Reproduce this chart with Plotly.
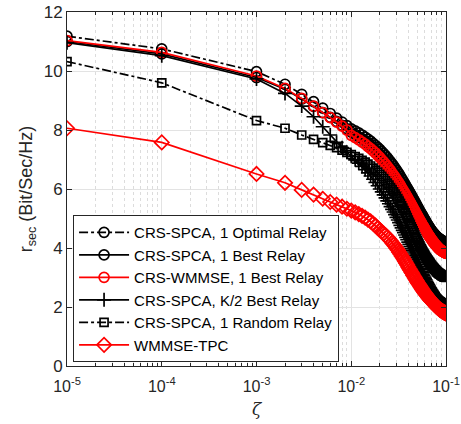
import plotly.graph_objects as go

# x grid: 1e-5, 1e-4, then 1e-3 ... 1e-1 in steps of 1e-3
zeta = [1e-5, 1e-4] + [i * 1e-3 for i in range(1, 101)]

optimal = [11.18, 10.75,
    9.98, 9.55, 9.21, 8.96, 8.74, 8.56, 8.40, 8.27, 8.15, 8.04,
    7.97, 7.90, 7.83, 7.76, 7.69, 7.62, 7.55, 7.48, 7.41, 7.34,
    7.27, 7.20, 7.13, 7.06, 6.99, 6.92, 6.85, 6.78, 6.71, 6.64,
    6.57, 6.50, 6.43, 6.36, 6.29, 6.22, 6.16, 6.09, 6.03, 5.97,
    5.91, 5.85, 5.79, 5.73, 5.67, 5.62, 5.56, 5.51, 5.45, 5.40,
    5.35, 5.30, 5.25, 5.21, 5.16, 5.12, 5.08, 5.03, 4.99, 4.95,
    4.91, 4.87, 4.83, 4.79, 4.76, 4.72, 4.69, 4.66, 4.63, 4.60,
    4.57, 4.55, 4.52, 4.50, 4.48, 4.46, 4.44, 4.42, 4.40, 4.38,
    4.37, 4.35, 4.34, 4.32, 4.31, 4.30, 4.29, 4.28, 4.27, 4.26,
    4.25, 4.24, 4.23, 4.22, 4.21, 4.21, 4.20, 4.19, 4.19, 4.18]

best = [11.00, 10.58,
    9.78, 9.38, 9.05, 8.80, 8.59, 8.43, 8.29, 8.16, 8.04, 7.93,
    7.85, 7.77, 7.70, 7.62, 7.55, 7.47, 7.40, 7.32, 7.25, 7.17,
    7.10, 7.02, 6.95, 6.87, 6.80, 6.72, 6.65, 6.58, 6.51, 6.44,
    6.37, 6.30, 6.23, 6.16, 6.09, 6.02, 5.96, 5.89, 5.83, 5.77,
    5.71, 5.65, 5.59, 5.53, 5.47, 5.41, 5.36, 5.30, 5.25, 5.20,
    5.15, 5.10, 5.05, 5.00, 4.96, 4.91, 4.87, 4.83, 4.79, 4.75,
    4.71, 4.67, 4.63, 4.60, 4.56, 4.53, 4.50, 4.47, 4.44, 4.41,
    4.38, 4.35, 4.33, 4.30, 4.28, 4.25, 4.23, 4.21, 4.19, 4.17,
    4.15, 4.13, 4.11, 4.10, 4.08, 4.07, 4.05, 4.04, 4.03, 4.02,
    4.01, 4.00, 3.99, 3.98, 3.97, 3.96, 3.95, 3.95, 3.94, 3.93]

wmmse = [11.03, 10.63,
    9.83, 9.41, 9.07, 8.81, 8.59, 8.42, 8.27, 8.13, 8.00, 7.82,
    7.74, 7.67, 7.59, 7.52, 7.44, 7.37, 7.29, 7.22, 7.14, 7.07,
    6.99, 6.92, 6.84, 6.77, 6.69, 6.62, 6.54, 6.47, 6.40, 6.33,
    6.26, 6.19, 6.12, 6.05, 5.98, 5.91, 5.85, 5.78, 5.72, 5.66,
    5.60, 5.54, 5.48, 5.42, 5.36, 5.30, 5.25, 5.19, 5.14, 5.09,
    5.04, 4.99, 4.94, 4.89, 4.85, 4.80, 4.76, 4.72, 4.68, 4.64,
    4.60, 4.56, 4.52, 4.49, 4.45, 4.42, 4.39, 4.36, 4.33, 4.30,
    4.27, 4.24, 4.22, 4.19, 4.17, 4.14, 4.12, 4.10, 4.08, 4.06,
    4.04, 4.02, 4.00, 3.99, 3.97, 3.96, 3.94, 3.93, 3.92, 3.91,
    3.90, 3.89, 3.88, 3.87, 3.86, 3.85, 3.84, 3.84, 3.83, 3.82]

khalf = [10.96, 10.52,
    9.73, 9.24, 8.81, 8.45, 8.11, 7.83, 7.58, 7.40, 7.25, 7.11,
    6.99, 6.88, 6.77, 6.66, 6.55, 6.44, 6.33, 6.22, 6.11, 6.00,
    5.90, 5.80, 5.70, 5.60, 5.50, 5.40, 5.31, 5.22, 5.13, 5.04,
    4.95, 4.86, 4.77, 4.68, 4.60, 4.52, 4.44, 4.36, 4.28, 4.20,
    4.12, 4.05, 3.97, 3.90, 3.83, 3.76, 3.69, 3.62, 3.56, 3.50,
    3.44, 3.38, 3.32, 3.27, 3.21, 3.16, 3.11, 3.06, 3.01, 2.96,
    2.92, 2.87, 2.83, 2.79, 2.75, 2.71, 2.67, 2.64, 2.60, 2.57,
    2.54, 2.51, 2.48, 2.45, 2.42, 2.40, 2.37, 2.35, 2.33, 2.31,
    2.29, 2.27, 2.25, 2.23, 2.22, 2.20, 2.19, 2.17, 2.16, 2.15,
    2.14, 2.13, 2.12, 2.11, 2.10, 2.09, 2.08, 2.07, 2.07, 2.06]

rand = [10.32, 9.60,
    8.32, 8.06, 7.83, 7.68, 7.57, 7.48, 7.40, 7.32, 7.24, 7.17,
    7.10, 7.04, 6.97, 6.91, 6.84, 6.78, 6.71, 6.64, 6.57, 6.50,
    6.43, 6.35, 6.28, 6.20, 6.13, 6.05, 5.98, 5.90, 5.83, 5.75,
    5.67, 5.59, 5.51, 5.43, 5.35, 5.27, 5.19, 5.11, 5.03, 4.95,
    4.87, 4.80, 4.72, 4.65, 4.58, 4.51, 4.44, 4.37, 4.31, 4.25,
    4.19, 4.13, 4.07, 4.02, 3.97, 3.92, 3.88, 3.83, 3.79, 3.75,
    3.71, 3.67, 3.63, 3.60, 3.57, 3.54, 3.51, 3.48, 3.45, 3.42,
    3.39, 3.37, 3.34, 3.32, 3.30, 3.28, 3.26, 3.24, 3.22, 3.20,
    3.18, 3.17, 3.15, 3.14, 3.13, 3.12, 3.11, 3.10, 3.08, 3.07,
    3.06, 3.05, 3.05, 3.04, 3.03, 3.02, 3.02, 3.01, 3.01, 3.00]

tpc = [8.06, 7.58,
    6.51, 6.21, 5.97, 5.81, 5.67, 5.56, 5.47, 5.40, 5.33, 5.27,
    5.21, 5.15, 5.09, 5.03, 4.96, 4.90, 4.83, 4.76, 4.68, 4.61,
    4.55, 4.49, 4.43, 4.37, 4.31, 4.25, 4.18, 4.12, 4.06, 3.99,
    3.93, 3.86, 3.80, 3.73, 3.67, 3.61, 3.54, 3.48, 3.42, 3.36,
    3.30, 3.25, 3.19, 3.14, 3.08, 3.03, 2.98, 2.93, 2.89, 2.84,
    2.80, 2.76, 2.72, 2.68, 2.64, 2.60, 2.57, 2.53, 2.50, 2.47,
    2.44, 2.41, 2.38, 2.35, 2.32, 2.30, 2.27, 2.25, 2.22, 2.20,
    2.18, 2.16, 2.14, 2.12, 2.10, 2.08, 2.06, 2.04, 2.02, 2.00,
    1.99, 1.97, 1.96, 1.94, 1.93, 1.91, 1.90, 1.89, 1.88, 1.87,
    1.86, 1.85, 1.84, 1.83, 1.82, 1.81, 1.81, 1.80, 1.79, 1.78]

names = ["CRS-SPCA, 1 Optimal Relay", "CRS-SPCA, 1 Best Relay",
         "CRS-WMMSE, 1 Best Relay", "CRS-SPCA, K/2 Best Relay",
         "CRS-SPCA, 1 Random Relay", "WMMSE-TPC"]
series = [optimal, best, wmmse, khalf, rand, tpc]
colors = ["black", "black", "red", "black", "black", "red"]
dashes = ["dashdot", "solid", "solid", "solid", "dashdot", "solid"]
symbols = ["circle-open", "circle-open", "circle-open", "cross-thin-open",
           "square-open", "diamond-open"]
msizes = [10, 10, 10, 10, 8, 11]

xticks = [1e-5, 1e-4, 1e-3, 1e-2, 1e-1]
xticktext = ["10<sup>-5</sup>", "10<sup>-4</sup>", "10<sup>-3</sup>",
             "10<sup>-2</sup>", "10<sup>-1</sup>"]
yticks = [0, 2, 4, 6, 8, 10, 12]

minor_vals = [k * 10.0 ** e for e in range(-5, -1) for k in range(2, 10)]

fig = go.Figure()
for nm, y, c, d, s, ms in zip(names, series, colors, dashes, symbols, msizes):
    fig.add_trace(go.Scatter(
        x=zeta, y=y, name=nm, mode="lines+markers",
        line=dict(color=c, width=1.7, dash=d),
        marker=dict(symbol=s, size=ms, color=c, line=dict(color=c, width=1.7)),
    ))

axis_col = "#262626"
fig.update_layout(
    width=461, height=424,
    margin=dict(l=67, r=15, t=12, b=58, autoexpand=False),
    paper_bgcolor="white", plot_bgcolor="white",
    font=dict(family="Liberation Sans, Arial, sans-serif", size=15, color=axis_col),
    showlegend=True,
    legend=dict(x=0.016, y=0.011, xanchor="left", yanchor="bottom",
                bgcolor="white", bordercolor=axis_col, borderwidth=1,
                font=dict(size=15, color="black"), tracegroupgap=0,
                itemwidth=50),
)
fig.update_xaxes(
    type="log", range=[-5, -1], automargin=False,
    tickmode="array", tickvals=xticks, ticktext=xticktext,
    showline=True, linecolor=axis_col, linewidth=1, mirror="ticks",
    ticks="inside", ticklen=5, tickcolor=axis_col,
    showgrid=True, gridcolor="#e3e3e3", gridwidth=1,
    minor=dict(tickmode="array", tickvals=minor_vals, showgrid=True,
               gridcolor="#dcdcdc", griddash="dot", ticks="inside",
               ticklen=3, tickcolor=axis_col),
    tickfont=dict(size=16),
    ticklabelstandoff=6,
    title=dict(text="<i>ζ</i>", font=dict(family="DejaVu Serif, serif", size=17),
               standoff=8),
    zeroline=False,
)
fig.update_yaxes(
    range=[0, 12], tickmode="array", tickvals=yticks, automargin=False,
    showline=True, linecolor=axis_col, linewidth=1, mirror="ticks",
    ticks="inside", ticklen=5, tickcolor=axis_col,
    showgrid=True, gridcolor="#e3e3e3", gridwidth=1,
    tickfont=dict(size=17),
    title=dict(text="r<sub>sec</sub> (Bit/Sec/Hz)", font=dict(size=18), standoff=6),
    zeroline=False,
)

fig.write_html("out.html")
